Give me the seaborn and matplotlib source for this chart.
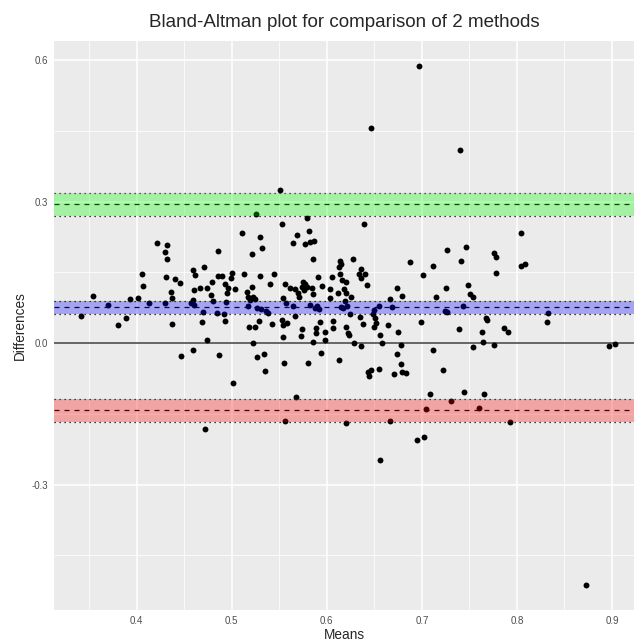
import numpy as np
import pandas as pd
import matplotlib
matplotlib.use("Agg")
import matplotlib.pyplot as plt
import seaborn as sns

# mean of the two methods / difference between them
means = [
    0.697, 0.647, 0.740,
    0.354, 0.341, 0.370, 0.380, 0.389, 0.393, 0.401, 0.406, 0.407, 0.413,
    0.421, 0.432, 0.430, 0.432, 0.431, 0.440, 0.446, 0.436, 0.437, 0.430, 0.437,
    0.551, 0.526, 0.553, 0.511, 0.530, 0.521, 0.532, 0.569, 0.564, 0.486,
    0.459, 0.471, 0.461, 0.486, 0.490, 0.500, 0.499, 0.513, 0.530, 0.544,
    0.460, 0.467, 0.474, 0.479, 0.493, 0.496, 0.503, 0.495, 0.478, 0.516,
    0.521, 0.540, 0.556, 0.561, 0.567, 0.570, 0.571, 0.517, 0.522, 0.519,
    0.524, 0.459, 0.460, 0.457, 0.480, 0.494, 0.517, 0.527, 0.531, 0.536,
    0.538, 0.554, 0.557, 0.564, 0.470, 0.484, 0.492, 0.567, 0.469, 0.493,
    0.529, 0.542, 0.553, 0.558, 0.554,
    0.579, 0.639, 0.581, 0.577, 0.582, 0.587, 0.585, 0.614, 0.615, 0.613,
    0.628, 0.636, 0.634, 0.636, 0.640, 0.642, 0.688, 0.701, 0.591, 0.605,
    0.614, 0.616, 0.620, 0.575, 0.577, 0.574, 0.576, 0.579, 0.584, 0.585,
    0.595, 0.603, 0.618, 0.620, 0.603, 0.612, 0.625, 0.619, 0.617, 0.621,
    0.615, 0.582, 0.588, 0.592, 0.590, 0.624, 0.635, 0.650, 0.655, 0.649,
    0.651, 0.652, 0.666, 0.674, 0.679, 0.669, 0.593, 0.607, 0.638, 0.664,
    0.699,
    0.804, 0.726, 0.746, 0.776, 0.778, 0.741, 0.712, 0.804, 0.808, 0.778,
    0.725, 0.749, 0.751, 0.754, 0.715, 0.743, 0.724, 0.726, 0.767, 0.769,
    0.832, 0.833,
    0.518, 0.524, 0.574, 0.573, 0.554, 0.474, 0.522, 0.447, 0.459, 0.487,
    0.527, 0.534, 0.555, 0.535, 0.501, 0.568, 0.556, 0.472,
    0.589, 0.589, 0.598, 0.607, 0.620, 0.622, 0.623, 0.650, 0.656, 0.675,
    0.585, 0.598, 0.629, 0.636, 0.658, 0.678, 0.594, 0.580, 0.613, 0.674,
    0.678, 0.643, 0.647, 0.644, 0.655, 0.671, 0.679, 0.683, 0.620, 0.667,
    0.695, 0.702, 0.656,
    0.739, 0.763, 0.764, 0.776, 0.754, 0.786, 0.791, 0.712, 0.722, 0.709,
    0.744, 0.765, 0.731, 0.704, 0.760, 0.793,
    0.897, 0.903, 0.873,
]
differences = [
    0.588, 0.457, 0.410,
    0.100, 0.058, 0.081, 0.039, 0.054, 0.094, 0.096, 0.147, 0.122, 0.085,
    0.213, 0.208, 0.194, 0.179, 0.141, 0.136, 0.128, 0.109, 0.096, 0.085, 0.041,
    0.325, 0.274, 0.253, 0.234, 0.225, 0.189, 0.202, 0.230, 0.213, 0.196,
    0.155, 0.162, 0.145, 0.143, 0.143, 0.149, 0.139, 0.147, 0.143, 0.147,
    0.113, 0.117, 0.117, 0.130, 0.126, 0.117, 0.115, 0.107, 0.102, 0.109,
    0.119, 0.126, 0.126, 0.117, 0.115, 0.107, 0.098, 0.098, 0.098, 0.092,
    0.094, 0.092, 0.081, 0.085, 0.090, 0.088, 0.079, 0.075, 0.073, 0.069,
    0.064, 0.096, 0.085, 0.079, 0.066, 0.064, 0.062, 0.058, 0.045, 0.047,
    0.047, 0.041, 0.049, 0.043, 0.039,
    0.266, 0.253, 0.238, 0.211, 0.215, 0.217, 0.179, 0.175, 0.168, 0.162,
    0.179, 0.158, 0.147, 0.139, 0.147, 0.124, 0.172, 0.145, 0.141, 0.141,
    0.147, 0.134, 0.130, 0.130, 0.126, 0.119, 0.113, 0.119, 0.117, 0.105,
    0.122, 0.115, 0.115, 0.107, 0.096, 0.107, 0.098, 0.090, 0.075, 0.079,
    0.077, 0.081, 0.075, 0.073, 0.079, 0.062, 0.056, 0.071, 0.079, 0.062,
    0.054, 0.043, 0.094, 0.117, 0.100, 0.077, 0.045, 0.047, 0.041, 0.039,
    0.045,
    0.234, 0.198, 0.204, 0.192, 0.183, 0.175, 0.164, 0.164, 0.168, 0.149,
    0.117, 0.124, 0.105, 0.098, 0.098, 0.079, 0.069, 0.066, 0.054, 0.049,
    0.045, 0.064,
    0.035, 0.035, 0.030, 0.015, 0.013, 0.007, 0.001, -0.027, -0.014, -0.025,
    -0.029, -0.023, -0.042, -0.059, -0.084, -0.114, -0.165, -0.182,
    0.032, 0.022, 0.024, 0.032, 0.035, 0.022, 0.018, 0.035, 0.018, 0.024,
    0.003, 0.007, 0.001, -0.006, 0.001, -0.004, -0.021, -0.042, -0.035, -0.023,
    -0.044, -0.061, -0.057, -0.069, -0.055, -0.065, -0.061, -0.063, -0.169, -0.165,
    -0.205, -0.199, -0.248,
    0.030, 0.024, 0.003, -0.004, -0.008, 0.032, 0.024, -0.014, -0.057, -0.108,
    -0.103, -0.108, -0.122, -0.139, -0.137, -0.167,
    -0.006, -0.001, -0.513,
]

# bias and limits of agreement with their confidence bands
band_names = ["upper", "bias", "lower"]
band_centre = [0.2955, 0.0770, -0.1415]
band_low = [0.2707, 0.0615, -0.1670]
band_high = [0.3182, 0.0904, -0.1188]
band_colours = ["#00ff00", "#0000ff", "#ff0000"]

x_ticks = [0.4, 0.5, 0.6, 0.7, 0.8, 0.9]
y_ticks = [-0.3, 0.0, 0.3, 0.6]

df = pd.DataFrame({"Means": means, "Differences": differences})

sns.set_theme(style="darkgrid")
plt.rcParams["font.family"] = ["Liberation Sans", "DejaVu Sans"]
plt.rcParams["axes.unicode_minus"] = False

fig = plt.figure(figsize=(6.37, 6.44), dpi=100)
ax = fig.add_axes([0.0852, 0.0528, 0.910, 0.8835])
ax.set_facecolor("#EBEBEB")

sns.scatterplot(data=df, x="Means", y="Differences", color="black",
                s=18, linewidth=0, ax=ax, zorder=3)

ax.axhline(0, color="#5a5a5a", lw=1.3, zorder=2)
for c, lo, hi, col in zip(band_centre, band_low, band_high, band_colours):
    ax.axhline(c, color="black", lw=0.9, ls=(0, (4, 4)), zorder=2)
    ax.axhline(lo, color="black", lw=0.9, ls=(0, (1, 3)), zorder=2)
    ax.axhline(hi, color="black", lw=0.9, ls=(0, (1, 3)), zorder=2)
    ax.axhspan(lo, hi, color=col, alpha=0.3, lw=0, zorder=4)

ax.set_xlim(0.3133, 0.9231)
ax.set_ylim(-0.566, 0.641)
ax.set_xticks(x_ticks)
ax.set_xticklabels([f"{v:.1f}" for v in x_ticks])
ax.set_yticks(y_ticks)
ax.set_yticklabels([f"{v:.1f}" for v in y_ticks])
ax.set_xticks([0.35, 0.45, 0.55, 0.65, 0.75, 0.85], minor=True)
ax.set_yticks([-0.45, -0.15, 0.15, 0.45], minor=True)
ax.grid(which="major", color="white", lw=1.1)
ax.grid(which="minor", color="white", lw=0.55)
ax.set_axisbelow(True)
for s in ax.spines.values():
    s.set_visible(False)
ax.tick_params(which="major", length=2.5, width=0.8, color="#333333",
               labelsize=7, labelcolor="#4D4D4D", pad=2)
ax.tick_params(which="minor", length=0)

ax.set_xlabel("Means", fontsize=9.8, labelpad=1)
ax.set_ylabel("Differences", fontsize=9.8, labelpad=3)
ax.set_title("Bland-Altman plot for comparison of 2 methods", fontsize=13.5, pad=10)

fig.savefig("out.png", dpi=100)
